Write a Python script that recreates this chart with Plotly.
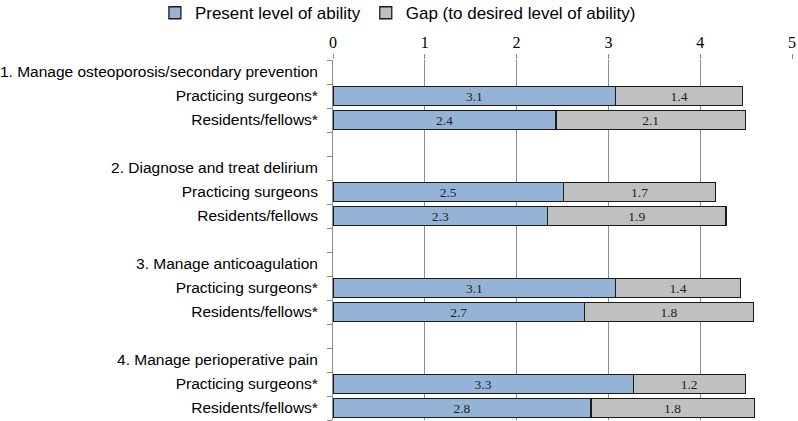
import plotly.graph_objects as go

# ---- data ----
groups = [
    "1. Manage osteoporosis/secondary prevention",
    "2. Diagnose and treat delirium",
    "3. Manage anticoagulation",
    "4. Manage perioperative pain",
]
subgroups = [
    ["Practicing surgeons*", "Residents/fellows*"],
    ["Practicing surgeons", "Residents/fellows"],
    ["Practicing surgeons*", "Residents/fellows*"],
    ["Practicing surgeons*", "Residents/fellows*"],
]
present = [3.08, 2.43, 2.51, 2.34, 3.08, 2.74, 3.27, 2.81]
gap = [1.38, 2.06, 1.66, 1.94, 1.36, 1.84, 1.22, 1.78]
x_ticks = [0, 1, 2, 3, 4, 5]
series_names = ["Present level of ability", "Gap (to desired level of ability)"]

# ---- build row layout ----
row_labels = []
bar_rows = []
for gi, (g, subs) in enumerate(zip(groups, subgroups)):
    row_labels.append(g)
    for s in subs:
        bar_rows.append(len(row_labels))
        row_labels.append(s)
    if gi < len(groups) - 1:
        row_labels.append("")
n_rows = len(row_labels)

BLUE = "#95B3D7"
GREY = "#C0C0C0"
GRID = "#8C8C8C"
EDGE = "#1A1A1A"

fig = go.Figure()
for name, vals, col in [(series_names[0], present, BLUE), (series_names[1], gap, GREY)]:
    fig.add_trace(go.Bar(
        y=bar_rows, x=vals, orientation="h", name=name,
        marker=dict(color=col, line=dict(color=EDGE, width=1.3)),
        texttemplate="%{x:.1f}", textposition="inside", insidetextanchor="middle",
        textangle=0, constraintext="none",
        textfont=dict(family="Liberation Serif", size=13.5, color="#222222"),
    ))

fig.update_layout(
    barmode="stack",
    bargap=0.2,
    width=798, height=421,
    margin=dict(l=333, r=6, t=60, b=1, autoexpand=False),
    paper_bgcolor="white", plot_bgcolor="white",
    font=dict(family="Liberation Sans", color="#000000"),
    showlegend=True,
    legend=dict(
        orientation="h", x=-0.388, xanchor="left", y=1.18, yanchor="top",
        font=dict(family="Liberation Sans", size=17, color="#000000"),
        traceorder="normal", bgcolor="rgba(0,0,0,0)",
    ),
    xaxis=dict(
        side="top", range=[0, 5], tickvals=x_ticks,
        showgrid=True, gridcolor=GRID, gridwidth=1,
        zeroline=False, showline=False,
        ticks="outside", ticklen=5, tickcolor=GRID,
        tickfont=dict(family="Liberation Serif", size=16, color="#000000"),
        fixedrange=True,
    ),
    yaxis=dict(
        range=[n_rows - 0.5, -0.5],
        tickmode="array", tickvals=list(range(n_rows)), ticktext=row_labels,
        ticks="", showgrid=False, zeroline=False,
        showline=True, linecolor=GRID, linewidth=1,
        tickfont=dict(family="Liberation Sans", size=15.5, color="#000000"),
        ticklabelstandoff=11,
        minor=dict(
            tickmode="array", tickvals=[i - 0.5 for i in range(n_rows + 1)],
            ticks="outside", ticklen=5, tickcolor=GRID, showgrid=False,
        ),
        fixedrange=True,
    ),
)

fig.write_html(
    "out.html",
    config={"displayModeBar": False},
    post_script="document.body.style.margin='0';",
)
